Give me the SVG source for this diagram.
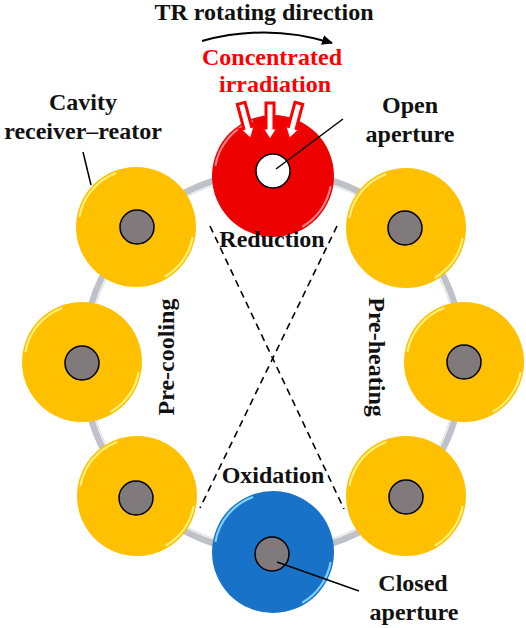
<svg xmlns="http://www.w3.org/2000/svg" width="526" height="628" viewBox="0 0 526 628">
<defs>
<style>
.t{font-family:"Liberation Serif","Times New Roman",serif;font-weight:bold;font-size:24px;fill:#111;text-anchor:middle}
.rt{fill:#ff0000}
.yel{fill:#FFC000}
.yhl{fill:none;stroke:#FFF07A;stroke-width:2.2;stroke-dasharray:0 10 50 130 60 110}
.rhl{fill:none;stroke:#FF8080;stroke-width:2.2;stroke-dasharray:0 10 50 130 60 110}
.bhl{fill:none;stroke:#7FD3FF;stroke-width:2.2;stroke-dasharray:0 10 50 130 60 110}
.ap{fill:#817A7D;stroke:#000;stroke-width:1.5}
.apw{fill:#fff;stroke:#000;stroke-width:1.5}
.dash{stroke:#000;stroke-width:1.6;stroke-dasharray:7 5;fill:none}
.lead{stroke:#000;stroke-width:1.5;fill:none}
.rarr{fill:#fff;stroke:#ff0000;stroke-width:3;stroke-linejoin:miter}
</style>
<marker id="ah" markerWidth="12" markerHeight="10" refX="10" refY="5" orient="auto" markerUnits="userSpaceOnUse">
<path d="M0,0 L11,5 L0,10 Z" fill="#000"/>
</marker>
<polygon id="arr" points="-4,-38 4,-38 4,-13 8,-13 0,0 -8,-13 -4,-13"/>
</defs>
<rect width="526" height="628" fill="#fff"/>

<g id="connectors">
<circle cx="273" cy="362" r="190" fill="none" stroke="#BEC2C8" stroke-width="8"/>
<circle cx="273" cy="362" r="187" fill="none" stroke="#EEF0F2" stroke-width="1.5"/>
<line class="dash" x1="210" y1="226" x2="344" y2="509"/>
<line class="dash" x1="337" y1="226" x2="200" y2="508"/>
</g>

<g id="node-reduction">
<circle cx="273" cy="176" r="61" fill="#EC0000"/>
<circle cx="273" cy="176" r="58.5" class="rhl" pathLength="360"/>
<circle cx="273" cy="171" r="17" class="apw"/>
</g>
<g id="node-preheat-1">
<circle cx="406" cy="228" r="60" class="yel"/>
<circle cx="406" cy="228" r="57.5" class="yhl" pathLength="360"/>
<circle cx="405" cy="228" r="17" class="ap"/>
</g>
<g id="node-preheat-2">
<circle cx="464" cy="362" r="60" class="yel"/>
<circle cx="464" cy="362" r="57.5" class="yhl" pathLength="360"/>
<circle cx="464" cy="362" r="17" class="ap"/>
</g>
<g id="node-preheat-3">
<circle cx="406" cy="496" r="60" class="yel"/>
<circle cx="406" cy="496" r="57.5" class="yhl" pathLength="360"/>
<circle cx="406" cy="497" r="17" class="ap"/>
</g>
<g id="node-oxidation">
<circle cx="273" cy="552" r="61" fill="#1772C8"/>
<circle cx="273" cy="552" r="58.5" class="bhl" pathLength="360"/>
<circle cx="272" cy="554" r="17" class="ap"/>
</g>
<g id="node-precool-1">
<circle cx="137" cy="496" r="60" class="yel"/>
<circle cx="137" cy="496" r="57.5" class="yhl" pathLength="360"/>
<circle cx="136" cy="498" r="17" class="ap"/>
</g>
<g id="node-precool-2">
<circle cx="82" cy="362" r="60" class="yel"/>
<circle cx="82" cy="362" r="57.5" class="yhl" pathLength="360"/>
<circle cx="82" cy="363" r="17" class="ap"/>
</g>
<g id="node-precool-3">
<circle cx="136" cy="227" r="60" class="yel"/>
<circle cx="136" cy="227" r="57.5" class="yhl" pathLength="360"/>
<circle cx="137" cy="227" r="17" class="ap"/>
</g>

<g id="irradiation-arrows" class="rarr">
<use href="#arr" transform="translate(251,140) rotate(-15)"/>
<use href="#arr" transform="translate(270,141)"/>
<use href="#arr" transform="translate(289,140) rotate(15)"/>
</g>

<g id="leaders">
<line class="lead" x1="343" y1="119" x2="276" y2="169"/>
<line class="lead" x1="83" y1="152" x2="91" y2="185"/>
<line class="lead" x1="277" y1="562" x2="359" y2="591"/>
<path d="M202,41 Q268,23 332,43" fill="none" stroke="#000" stroke-width="2" marker-end="url(#ah)"/>
</g>

<g id="labels">
<text class="t" x="264" y="20">TR rotating direction</text>
<text class="t rt" x="272" y="65">Concentrated</text>
<text class="t rt" x="275" y="92">irradiation</text>
<text class="t" x="410" y="113">Open</text>
<text class="t" x="410" y="142">aperture</text>
<text class="t" x="83" y="110">Cavity</text>
<text class="t" x="83" y="139">receiver–reator</text>
<text class="t" x="272" y="247">Reduction</text>
<text class="t" x="273" y="483">Oxidation</text>
<text class="t" x="413" y="591">Closed</text>
<text class="t" x="414" y="620">aperture</text>
<text class="t" transform="translate(174,357) rotate(-90)">Pre-cooling</text>
<text class="t" transform="translate(369,357) rotate(90)">Pre-heating</text>
</g>
</svg>
